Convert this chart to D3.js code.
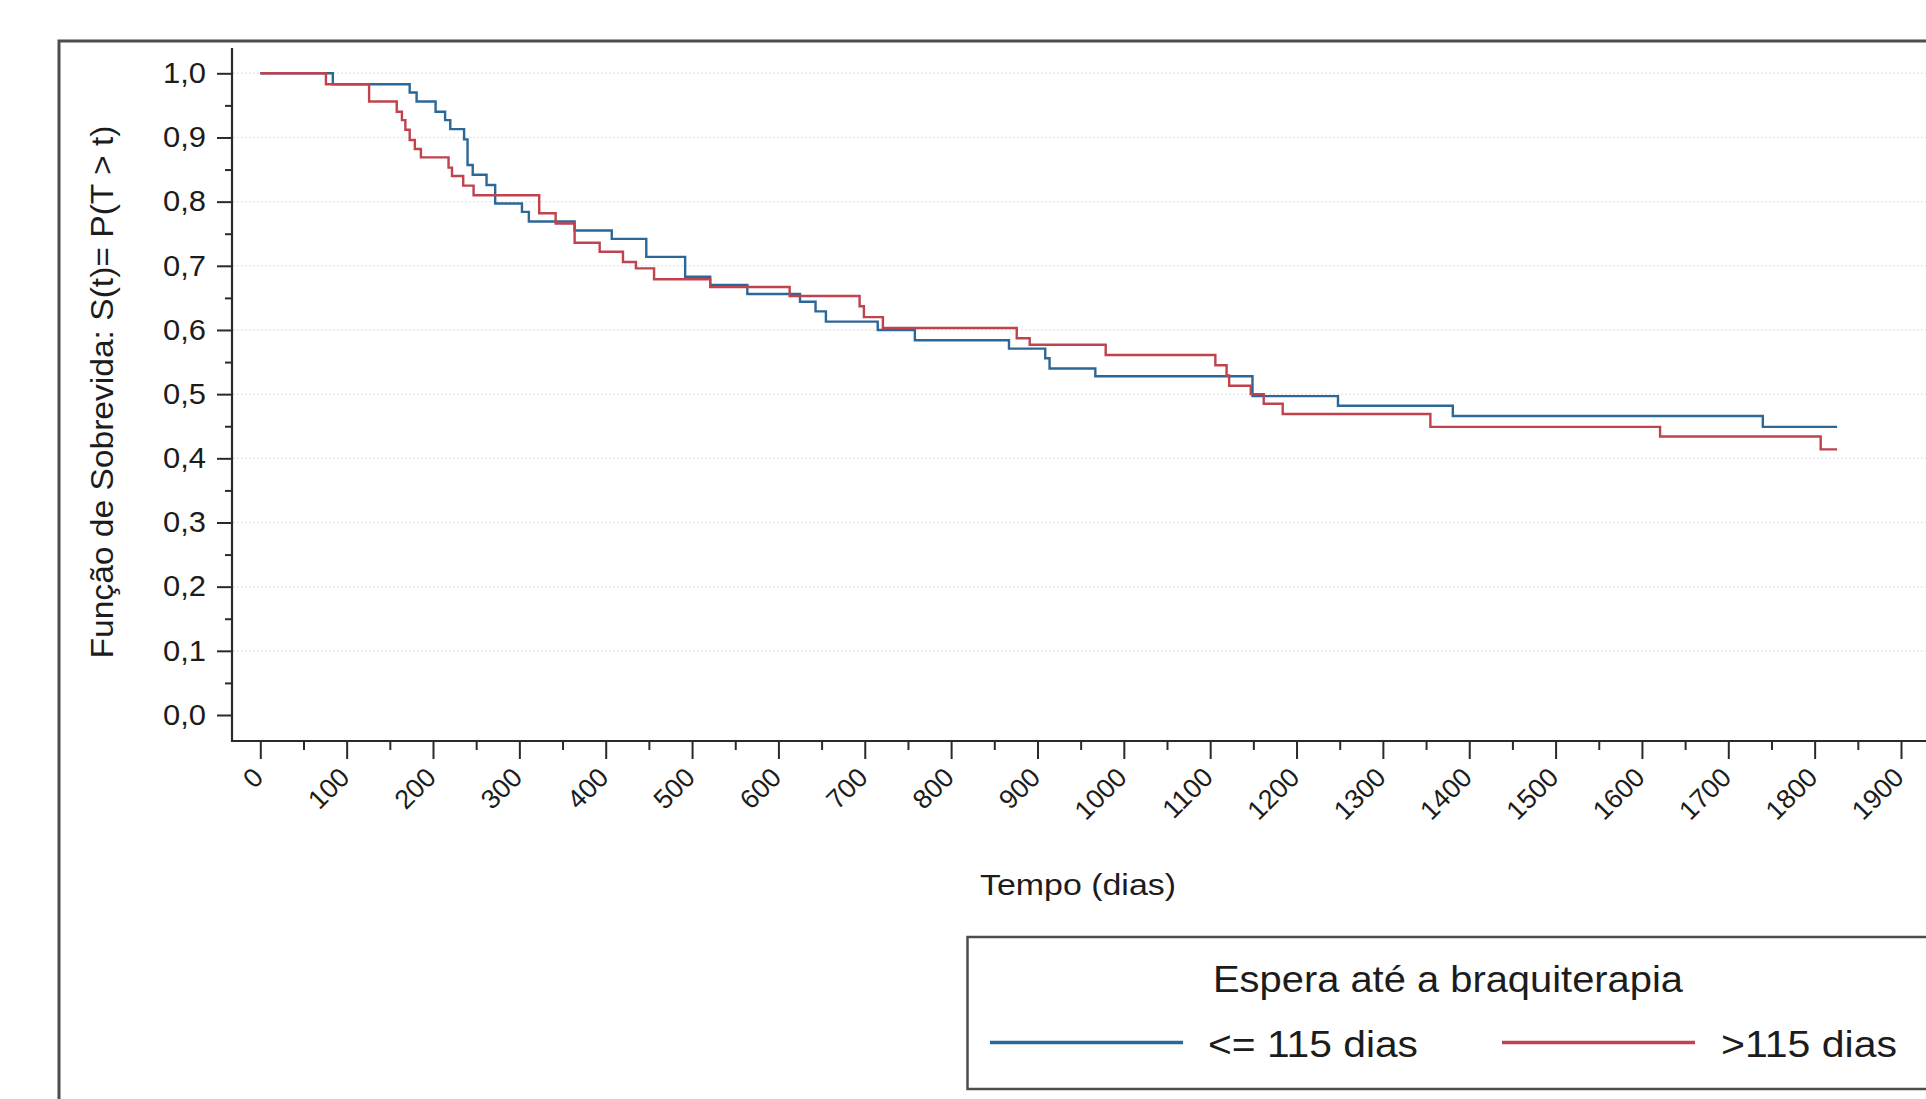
<!DOCTYPE html>
<html>
<head>
<meta charset="utf-8">
<script src="https://cdn.jsdelivr.net/npm/d3@7"></script>
<style>
  html, body { margin: 0; padding: 0; background: #ffffff; }
  svg { display: block; }
</style>
</head>
<body>
<svg id="chart" width="1926" height="1099"></svg>
<script>
// ---------------- DATA ----------------
const seriesNames = ["<= 115 dias", ">115 dias"];
const legendTitle = "Espera até a braquiterapia";
const yAxisTitle = "Função de Sobrevida: S(t)= P(T > t)";
const xAxisTitle = "Tempo (dias)";

const yTickValues = [0.0, 0.1, 0.2, 0.3, 0.4, 0.5, 0.6, 0.7, 0.8, 0.9, 1.0];
const yMinorValues = [0.05, 0.15, 0.25, 0.35, 0.45, 0.55, 0.65, 0.75, 0.85, 0.95];
const xTickValues = [0, 100, 200, 300, 400, 500, 600, 700, 800, 900, 1000, 1100, 1200, 1300, 1400, 1500, 1600, 1700, 1800, 1900];
const xMinorValues = [50, 150, 250, 350, 450, 550, 650, 750, 850, 950, 1050, 1150, 1250, 1350, 1450, 1550, 1650, 1750, 1850];

// group "<= 115 dias" (blue): event times and survival after each time
const blueTimes = [0, 84, 173, 181, 203, 214, 220, 236, 240, 246, 262, 272, 303, 311, 364, 407, 447, 492, 521, 564, 625, 643, 655, 715, 758, 867, 909, 914, 967, 1149, 1248, 1381, 1740, 1826];
const blueSurv  = [1.000, 0.983, 0.970, 0.956, 0.940, 0.927, 0.913, 0.897, 0.857, 0.842, 0.826, 0.797, 0.784, 0.769, 0.755, 0.742, 0.714, 0.683, 0.670, 0.656, 0.644, 0.629, 0.613, 0.600, 0.584, 0.571, 0.556, 0.540, 0.528, 0.497, 0.482, 0.466, 0.449, 0.449];

// group ">115 dias" (red)
const redTimes = [0, 76, 126, 158, 164, 168, 173, 179, 186, 218, 222, 235, 247, 323, 342, 364, 393, 420, 435, 456, 521, 613, 694, 699, 721, 876, 891, 979, 1106, 1119, 1122, 1147, 1162, 1184, 1355, 1621, 1807, 1826];
const redSurv  = [1.000, 0.983, 0.956, 0.940, 0.927, 0.912, 0.896, 0.882, 0.869, 0.853, 0.840, 0.825, 0.810, 0.782, 0.766, 0.736, 0.722, 0.706, 0.696, 0.679, 0.667, 0.653, 0.637, 0.620, 0.603, 0.587, 0.577, 0.561, 0.545, 0.529, 0.513, 0.500, 0.485, 0.469, 0.449, 0.434, 0.414, 0.414];

const seriesColors = ["#2b6797", "#bf424c"];

// ---------------- CHART ----------------
const svg = d3.select("#chart");
const FONT = "'Liberation Sans', Arial, Helvetica, sans-serif";
const TXT = "#1c1c1c";

svg.append("rect").attr("width", 1926).attr("height", 1099).attr("fill", "#ffffff");

const x = d3.scaleLinear().domain([0, 1900]).range([260.3, 1901]);
const y = d3.scaleLinear().domain([0, 1]).range([715, 73.3]);

const axisX0 = 232, axisY0 = 741;

// outer frame (cropped on right & bottom)
svg.append("path")
  .attr("d", "M59,1110 V41 H1940")
  .attr("fill", "none").attr("stroke", "#4d4d4d").attr("stroke-width", 3);

// gridlines
svg.append("g").selectAll("line")
  .data(yTickValues.filter(v => v > 0))
  .join("line")
  .attr("x1", axisX0 + 1).attr("x2", 1926)
  .attr("y1", d => y(d)).attr("y2", d => y(d))
  .attr("stroke", "#e2e8ec").attr("stroke-width", 1.5)
  .attr("stroke-dasharray", "2,2");

// y axis
const fmt = d => d3.format(".1f")(d).replace(".", ",");
const gy = svg.append("g").attr("transform", `translate(${axisX0},0)`)
  .call(d3.axisLeft(y).tickValues(yTickValues).tickSize(15).tickPadding(11).tickFormat(fmt));
gy.select(".domain").remove();
gy.selectAll(".tick line").attr("stroke", "#2a2a2a").attr("stroke-width", 2);
gy.selectAll(".tick text")
  .attr("font-family", FONT).attr("font-size", 29).attr("fill", TXT)
  .attr("textLength", 43).attr("lengthAdjust", "spacingAndGlyphs");

const gyMinor = svg.append("g").attr("transform", `translate(${axisX0},0)`)
  .call(d3.axisLeft(y).tickValues(yMinorValues).tickSize(7).tickFormat(""));
gyMinor.select(".domain").remove();
gyMinor.selectAll(".tick line").attr("stroke", "#2a2a2a").attr("stroke-width", 2);

// x axis
const gx = svg.append("g").attr("transform", `translate(0,${axisY0})`)
  .call(d3.axisBottom(x).tickValues(xTickValues).tickSize(18).tickFormat(d => String(d)));
gx.select(".domain").remove();
gx.selectAll(".tick line").attr("stroke", "#2a2a2a").attr("stroke-width", 2);
gx.selectAll(".tick text")
  .attr("font-family", FONT).attr("font-size", 27).attr("fill", TXT)
  .attr("text-anchor", "end")
  .attr("x", 0).attr("y", 0).attr("dy", 0)
  .attr("transform", "translate(4,38) rotate(-45)");

const gxMinor = svg.append("g").attr("transform", `translate(0,${axisY0})`)
  .call(d3.axisBottom(x).tickValues(xMinorValues).tickSize(9).tickFormat(""));
gxMinor.select(".domain").remove();
gxMinor.selectAll(".tick line").attr("stroke", "#2a2a2a").attr("stroke-width", 2);

// axis lines
svg.append("line").attr("x1", axisX0).attr("x2", axisX0).attr("y1", 48).attr("y2", axisY0 + 1)
  .attr("stroke", "#2a2a2a").attr("stroke-width", 2.2);
svg.append("line").attr("x1", axisX0 - 1).attr("x2", 1926).attr("y1", axisY0).attr("y2", axisY0)
  .attr("stroke", "#2a2a2a").attr("stroke-width", 2.2);

// curves
const stepLine = d3.line().x(d => x(d[0])).y(d => y(d[1])).curve(d3.curveStepAfter);
const blueData = blueTimes.map((t, i) => [t, blueSurv[i]]);
const redData = redTimes.map((t, i) => [t, redSurv[i]]);
svg.append("path").datum(blueData).attr("d", stepLine)
  .attr("fill", "none").attr("stroke", seriesColors[0]).attr("stroke-width", 2.4);
svg.append("path").datum(redData).attr("d", stepLine)
  .attr("fill", "none").attr("stroke", seriesColors[1]).attr("stroke-width", 2.4);

// axis titles
svg.append("text")
  .attr("transform", "translate(113,392) rotate(-90)")
  .attr("text-anchor", "middle")
  .attr("font-family", FONT).attr("font-size", 31).attr("fill", TXT)
  .attr("textLength", 533).attr("lengthAdjust", "spacingAndGlyphs")
  .text(yAxisTitle);

svg.append("text")
  .attr("x", 1078).attr("y", 895)
  .attr("text-anchor", "middle")
  .attr("font-family", FONT).attr("font-size", 30).attr("fill", TXT)
  .attr("textLength", 196).attr("lengthAdjust", "spacingAndGlyphs")
  .text(xAxisTitle);

// legend
svg.append("rect")
  .attr("x", 967.5).attr("y", 937).attr("width", 1000).attr("height", 152)
  .attr("fill", "none").attr("stroke", "#4d4d4d").attr("stroke-width", 2.5);

svg.append("text")
  .attr("x", 1448).attr("y", 992)
  .attr("text-anchor", "middle")
  .attr("font-family", FONT).attr("font-size", 36).attr("fill", TXT)
  .attr("textLength", 470).attr("lengthAdjust", "spacingAndGlyphs")
  .text(legendTitle);

const legendItems = [
  { name: seriesNames[0], color: seriesColors[0], x1: 990, x2: 1183, tx: 1208, tl: 210 },
  { name: seriesNames[1], color: seriesColors[1], x1: 1502, x2: 1695, tx: 1721, tl: 176 }
];
const lg = svg.append("g").selectAll("g").data(legendItems).join("g");
lg.append("line")
  .attr("x1", d => d.x1).attr("x2", d => d.x2)
  .attr("y1", 1042.5).attr("y2", 1042.5)
  .attr("stroke", d => d.color).attr("stroke-width", 3.5);
lg.append("text")
  .attr("x", d => d.tx).attr("y", 1057)
  .attr("font-family", FONT).attr("font-size", 36).attr("fill", TXT)
  .attr("textLength", d => d.tl).attr("lengthAdjust", "spacingAndGlyphs")
  .text(d => d.name);
</script>
</body>
</html>
